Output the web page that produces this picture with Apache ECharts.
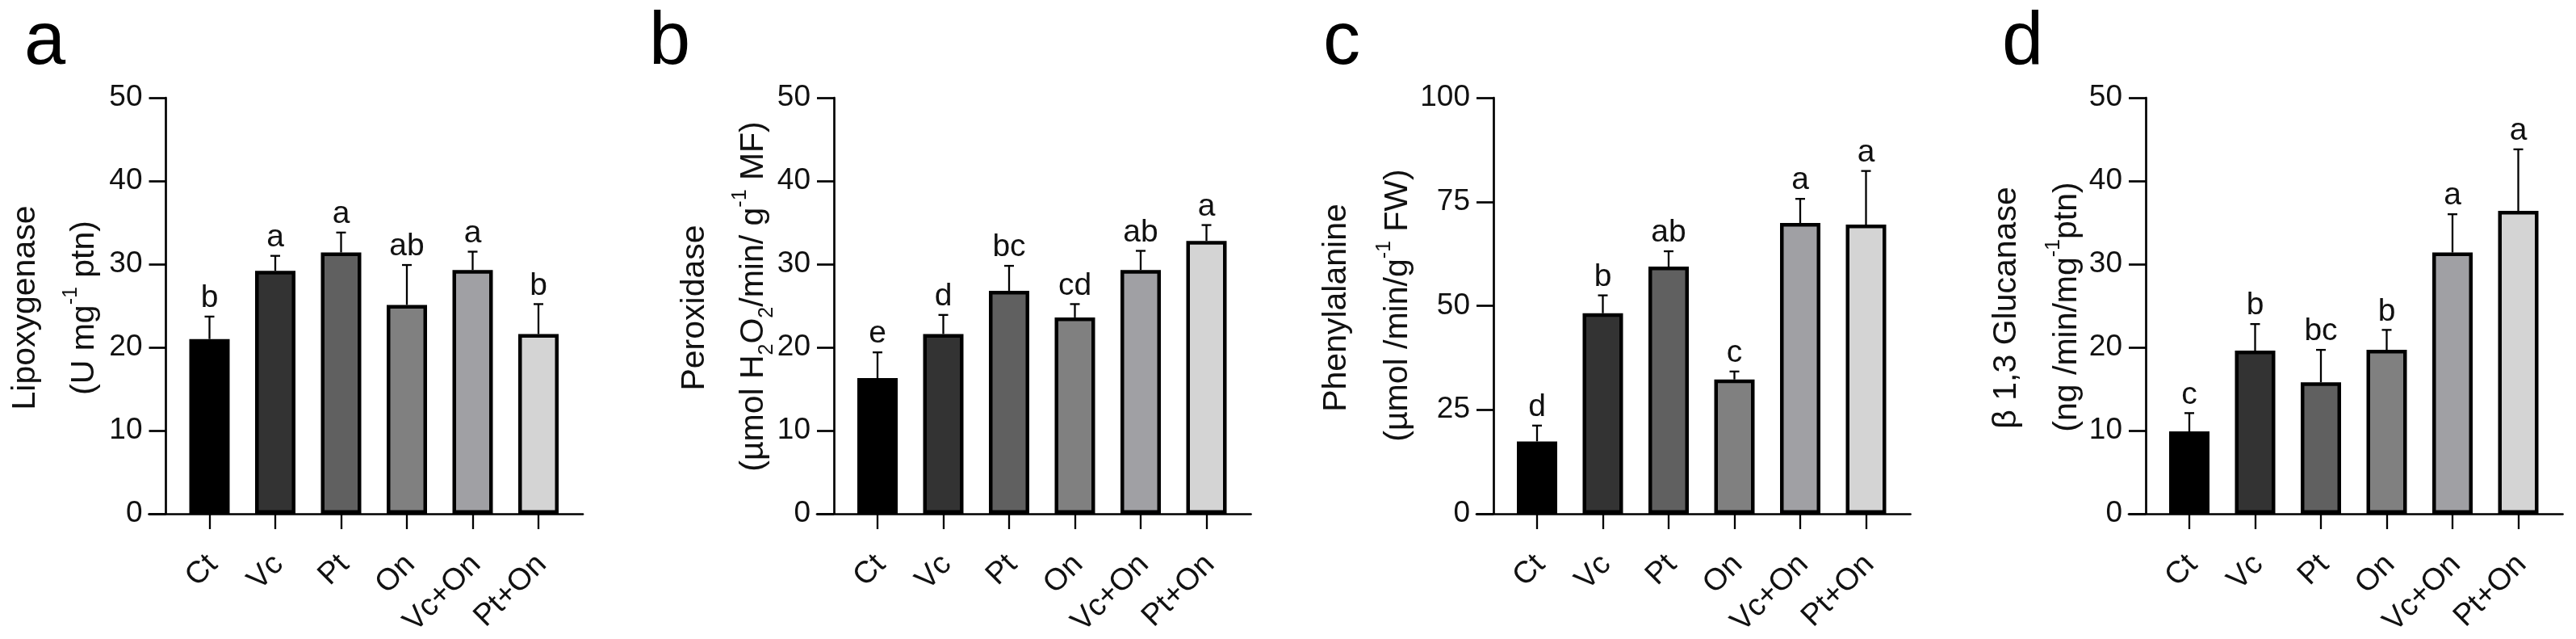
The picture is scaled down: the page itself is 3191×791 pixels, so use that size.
<!DOCTYPE html>
<html style="height: 100%">
<head>
  <meta charset="utf-8">
  <title>Enzyme activities</title>
</head>
<body style="height: 100%; margin: 0; background: #fff">
<div id="container" style="width: 3191px; height: 791px"></div>
<script type="text/javascript" src="https://cdn.jsdelivr.net/npm/echarts@6/dist/echarts.min.js"></script>
<script type="text/javascript">
  // treatments
  const categories = ['Ct', 'Vc', 'Pt', 'On', 'Vc+On', 'Pt+On'];

  // a: lipoxygenase
  const lipoxMean = [21.0, 29.2, 31.4, 25.1, 29.3, 21.6];
  const lipoxSd = [2.7, 1.8, 2.4, 4.8, 2.2, 3.6];
  const lipoxLetters = ['b', 'a', 'a', 'ab', 'a', 'b'];

  // b: peroxidase
  const peroxMean = [16.3, 21.6, 26.8, 23.6, 29.3, 32.8];
  const peroxSd = [3.1, 2.3, 3.0, 1.6, 2.3, 1.9];
  const peroxLetters = ['e', 'd', 'bc', 'cd', 'ab', 'a'];

  // c: phenylalanine
  const pheMean = [17.4, 48.2, 59.4, 32.3, 69.9, 69.5];
  const pheSd = [3.8, 4.3, 3.7, 1.9, 5.8, 12.9];
  const pheLetters = ['d', 'b', 'ab', 'c', 'a', 'a'];

  // d: beta 1,3 glucanase
  const glucMean = [9.9, 19.6, 15.8, 19.7, 31.4, 36.4];
  const glucSd = [2.2, 3.2, 3.9, 2.4, 4.6, 7.4];
  const glucLetters = ['c', 'b', 'bc', 'b', 'a', 'a'];

  // y axis ranges
  const yMax = [50, 50, 100, 50];
  const yStep = [10, 10, 25, 10];

  // bar fills, one per treatment
  const barColors = ['#000000', '#333333', '#606060', '#808080', '#a0a0a4', '#d4d4d4'];

  const FONT = '"Liberation Sans", Arial, sans-serif';
  const INK = '#111';
  const plotTop = 121, plotHeight = 515;
  const band = 81.5, firstOffset = 54, lastOffset = 55, tickLen = 21;

  const rich = {
    sup: {fontSize: 25, lineHeight: 14, verticalAlign: 'top', fontFamily: FONT, fill: INK},
    sub: {fontSize: 25, lineHeight: 30, verticalAlign: 'bottom', fontFamily: FONT, fill: INK}
  };

  const panels = [
    {letter: 'a', letterX: 30, axisX: 205.5, means: lipoxMean, sd: lipoxSd, letters: lipoxLetters,
      t1: 'Lipoxygenase', t2: '(U mg{sup|-1} ptn)', t1dx: -173.5, t2dx: -100.5, t2y: 381},
    {letter: 'b', letterX: 804, axisX: 1033, means: peroxMean, sd: peroxSd, letters: peroxLetters,
      t1: 'Peroxidase', t2: '(µmol H{sub|2}O{sub|2}/min/ g{sup|-1} MF)', t1dx: -172, t2dx: -99, t2y: 367},
    {letter: 'c', letterX: 1639, axisX: 1850, means: pheMean, sd: pheSd, letters: pheLetters,
      t1: 'Phenylalanine', t2: '(µmol /min/g{sup|-1} FW)', t1dx: -194, t2dx: -118, t2y: 378},
    {letter: 'd', letterX: 2480, axisX: 2658, means: glucMean, sd: glucSd, letters: glucLetters,
      t1: 'β 1,3 Glucanase', t2: '(ng /min/mg{sup|-1}ptn)', t1dx: -172.5, t2dx: -97.5, t2y: 380}
  ];

  let grid = [], xAxis = [], yAxis = [], series = [], graphic = [];

  panels.forEach((p, i) => {
    const gA = i * 2, gB = i * 2 + 1;
    // grid for the bars
    grid.push({left: p.axisX + firstOffset - band / 2, top: plotTop, width: band * 6, height: plotHeight,
      outerBoundsMode: 'none'});
    // wider grid that only carries the long baseline
    grid.push({left: p.axisX - tickLen, top: plotTop,
      width: tickLen + firstOffset + band * 5 + lastOffset, height: plotHeight, outerBoundsMode: 'none'});

    xAxis.push({
      type: 'category', gridIndex: gA, data: categories,
      axisLine: {show: false},
      axisTick: {show: true, alignWithLabel: true, length: 19, lineStyle: {color: '#000', width: 2.3}},
      axisLabel: {show: false}
    });
    yAxis.push({
      type: 'value', gridIndex: gA, min: 0, max: yMax[i], interval: yStep[i],
      offset: firstOffset - band / 2,
      axisLine: {show: true, lineStyle: {color: '#000', width: 2.7}},
      axisTick: {show: true, length: tickLen, lineStyle: {color: '#000', width: 2.7}},
      axisLabel: {margin: tickLen + 8, fontSize: 37, color: INK, fontFamily: FONT},
      splitLine: {show: false}
    });
    xAxis.push({
      type: 'value', gridIndex: gB, min: 0, max: 1,
      axisLine: {show: true, onZero: false, lineStyle: {color: '#000', width: 2.7}},
      axisTick: {show: false}, axisLabel: {show: false}, splitLine: {show: false}
    });
    yAxis.push({type: 'value', gridIndex: gB, min: 0, max: 1, show: false});

    series.push({
      type: 'bar', xAxisIndex: gA, yAxisIndex: gA, barWidth: 50, silent: true,
      itemStyle: {borderColor: '#000', borderWidth: 4.5},
      data: p.means.map((v, j) => ({value: v, itemStyle: {color: barColors[j]}}))
    });

    // error bars (upper only) with the significance letters
    series.push({
      type: 'custom', xAxisIndex: gA, yAxisIndex: gA, z: 5, silent: true,
      data: p.means.map((v, j) => [j, v, p.sd[j]]),
      renderItem: (params, api) => {
        const idx = api.value(0), mean = api.value(1), sd = api.value(2);
        const base = api.coord([idx, mean]);
        const top = api.coord([idx, mean + sd]);
        const line = {stroke: '#000', lineWidth: 2.3};
        return {
          type: 'group',
          children: [
            {type: 'line', shape: {x1: base[0], y1: base[1], x2: top[0], y2: top[1]}, style: line},
            {type: 'line', shape: {x1: top[0] - 6, y1: top[1], x2: top[0] + 6, y2: top[1]}, style: line},
            {type: 'text', style: {text: p.letters[params.dataIndex], x: top[0], y: top[1] - 3,
              align: 'center', verticalAlign: 'bottom', fontSize: 39, fontFamily: FONT, fill: INK}}
          ]
        };
      }
    });

    // category labels, slanted 45 degrees and ending at their tick
    series.push({
      type: 'custom', xAxisIndex: gA, yAxisIndex: gA, clip: false, silent: true,
      data: categories.map((c, j) => [j, 0]),
      renderItem: (params, api) => {
        const pt = api.coord([api.value(0), 0]);
        return {
          type: 'text', x: pt[0] + 4, y: pt[1] + 57, rotation: Math.PI / 4,
          style: {text: categories[params.dataIndex], align: 'right', verticalAlign: 'middle',
            fontSize: 38, fontFamily: FONT, fill: INK}
        };
      }
    });

    // panel letter
    graphic.push({type: 'text', x: p.letterX, y: 54, silent: true,
      style: {text: p.letter, fontSize: 92, fontFamily: FONT, fill: '#000', align: 'left', verticalAlign: 'middle'}});
    // y axis title, two lines
    graphic.push({type: 'text', x: p.axisX + p.t1dx, y: 381, rotation: Math.PI / 2, silent: true,
      style: {text: p.t1, fontSize: 41, fontFamily: FONT, fill: INK, align: 'center', verticalAlign: 'middle'}});
    graphic.push({type: 'text', x: p.axisX + p.t2dx, y: p.t2y, rotation: Math.PI / 2, silent: true,
      style: {text: p.t2, rich: rich, fontSize: 41, lineHeight: 58, fontFamily: FONT, fill: INK,
        align: 'center', verticalAlign: 'middle'}});
  });

  let myChart = echarts.init(document.getElementById('container'));
  myChart.setOption({
    animation: false,
    backgroundColor: '#fff',
    grid: grid,
    xAxis: xAxis,
    yAxis: yAxis,
    series: series,
    graphic: graphic
  });
</script>
</body>
</html>
